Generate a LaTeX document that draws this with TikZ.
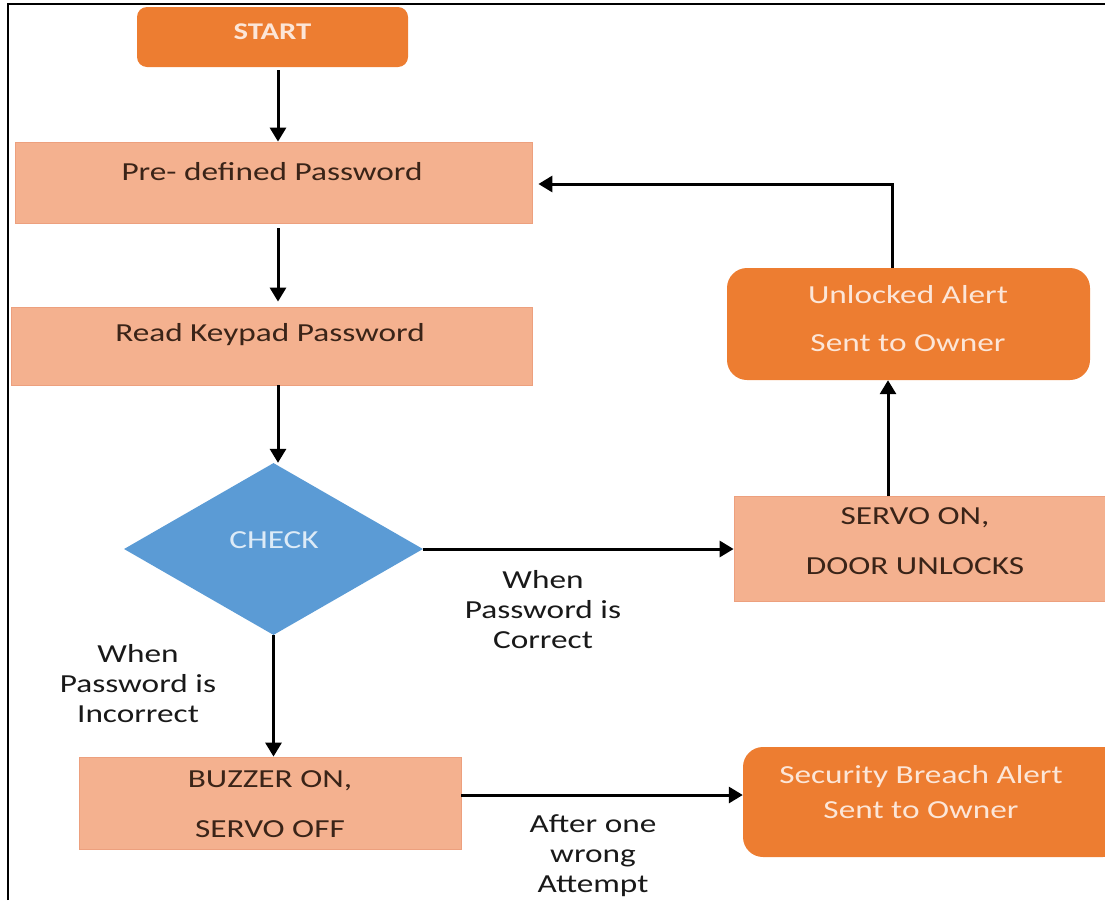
\documentclass[tikz,border=0pt]{standalone}
\usepackage{fontspec}
\setmainfont[FakeStretch=1.28]{Carlito}
\usetikzlibrary{shapes.geometric,arrows.meta,calc}
\definecolor{orangebox}{HTML}{ED7D31}
\definecolor{salmon}{HTML}{F4B18F}
\definecolor{salmonedge}{HTML}{EDA07E}
\definecolor{bluedia}{HTML}{5B9BD5}
\definecolor{darktext}{HTML}{3A2418}
\definecolor{lighttext}{HTML}{FCE6D8}
\definecolor{bluetext}{HTML}{DDEBF7}
\tikzset{
  proc/.style={rectangle, fill=salmon, draw=salmonedge, line width=0.8pt, inner sep=0pt},
  alertbox/.style={rectangle, rounded corners=20pt, fill=orangebox, draw=none, inner sep=0pt},
  decide/.style={diamond, fill=bluedia, draw=none, inner sep=0pt},
  dtxt/.style={text=darktext, font=\fontsize{26}{30}\selectfont, inner sep=0pt},
  ltxt/.style={text=lighttext, font=\fontsize{26}{30}\selectfont, inner sep=0pt},
  lbl/.style={text=black!90, font=\fontsize{26}{30}\selectfont, align=center, inner sep=0pt},
  arr/.style={-{Triangle[width=16pt,length=14pt]}, line width=3pt, black}
}
\begin{document}
\begin{tikzpicture}[x=1pt,y=-1pt]
\useasboundingbox (0,0) rectangle (1105,900);
% frame
\draw[line width=2pt, black] (8,900) -- (8,4) -- (1105,4);

% nodes
\node[alertbox, rounded corners=10pt, minimum width=271pt, minimum height=60pt] (start) at (272.5,37) {};
\node[ltxt, font=\bfseries\fontsize{24}{28}\selectfont] (tstart) at (272.5,32) {START};

\node[proc, minimum width=517pt, minimum height=81pt] (pre) at (273.5,182.5) {};
\node[dtxt] (tpre) at (272,172) {Pre- defined Password};

\node[proc, minimum width=521pt, minimum height=78pt] (read) at (271.5,346) {};
\node[dtxt] (tread) at (270,335) {Read Keypad Password};

\node[decide, minimum width=299pt, minimum height=172pt] (check) at (273.5,549) {};
\node[text=bluetext, font=\fontsize{26}{30}\selectfont, inner sep=0pt] (tcheck) at (274,540) {CHECK};

\node[proc, minimum width=380pt, minimum height=105pt] (servo) at (924,548.5) {};
\node[dtxt] (tservo1) at (915,518) {SERVO ON,};
\node[dtxt] (tservo2) at (915,566) {DOOR UNLOCKS};

\node[alertbox, minimum width=363pt, minimum height=112pt] (unlock) at (908.5,324) {};
\node[ltxt] (tunlock1) at (908,295) {Unlocked Alert};
\node[ltxt] (tunlock2) at (908,343) {Sent to Owner};

\node[proc, minimum width=382pt, minimum height=92pt] (buzzer) at (270,803) {};
\node[dtxt] (tbuzz1) at (270,781) {BUZZER ON,};
\node[dtxt] (tbuzz2) at (270,829) {SERVO OFF};

\node[alertbox, minimum width=380pt, minimum height=110pt] (breach) at (933,802) {};
\node[ltxt] (tbreach1) at (921,777) {Security Breach Alert};
\node[ltxt] (tbreach2) at (921,810) {Sent to Owner};

% labels
\node[lbl] (lcorrect) at (543,610) {When\\Password is\\Correct};
\node[lbl] (lincorrect) at (138,684) {When\\Password is\\Incorrect};
\node[lbl] (lattempt) at (593,856) {After one\\wrong\\Attempt};

% connectors
\draw[arr] ([xshift=5.5pt,yshift=-3pt]start.south) -- ([xshift=5.5pt]start.south |- pre.north);
\draw[arr] ([xshift=4.5pt,yshift=-5pt]pre.south) -- ([xshift=4.5pt,yshift=5pt]pre.south |- read.north);
\draw[arr] ([xshift=6.5pt]read.south) -- ([xshift=6.5pt]read.south |- check.north);
\draw[arr] (check.east) -- (check.east -| servo.west);
\draw[arr] ([xshift=-36pt]servo.north) -- ([xshift=-36pt]servo.north |- unlock.south);
\draw[arr] ([xshift=-16.5pt]unlock.north) |- ([xshift=6pt,yshift=-1.5pt]pre.east);
\draw[arr] (check.south) -- (check.south |- buzzer.north);
\draw[arr] ([yshift=8pt]buzzer.east) -- ([yshift=8pt]buzzer.east -| breach.west);
\end{tikzpicture}
\end{document}
